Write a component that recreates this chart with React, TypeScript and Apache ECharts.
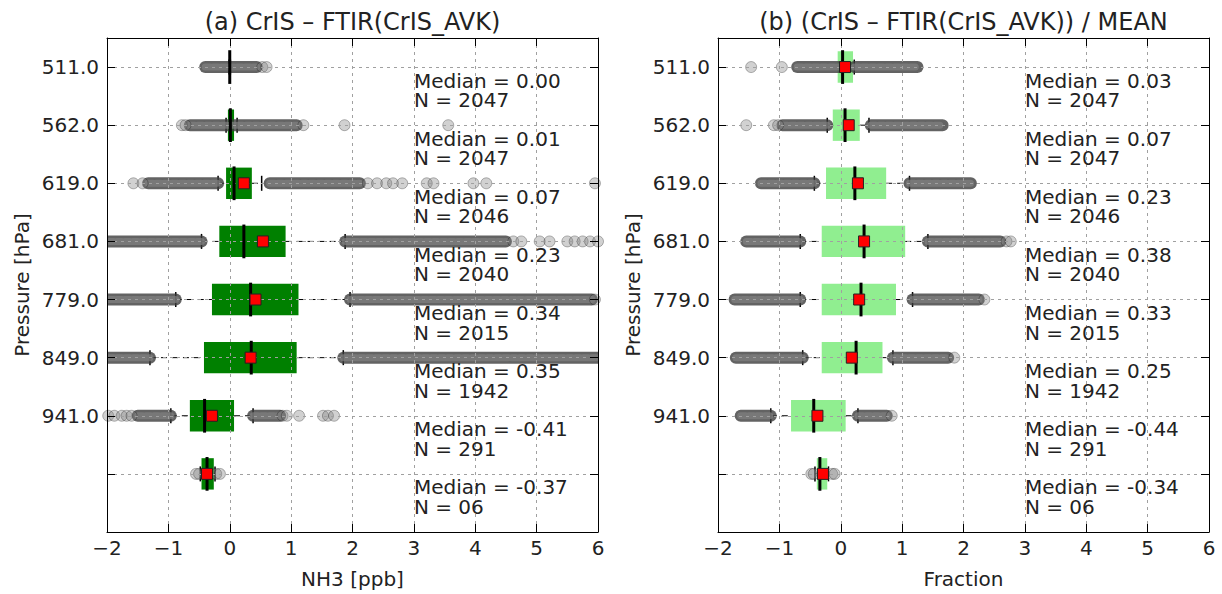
import React, { useEffect, useRef } from "react";
import * as echarts from "echarts";

// ---------- data ----------
const rowLabels = ["511.0", "562.0", "619.0", "681.0", "779.0", "849.0", "941.0", ""];
const rowPos = [8, 7, 6, 5, 4, 3, 2, 1];
const nObs = ["2047", "2047", "2046", "2040", "2015", "1942", "291", "06"];

// Panel (a) CrIS - FTIR(CrIS_AVK)  [ppb]
const aMedian = [0.0, 0.01, 0.07, 0.23, 0.34, 0.35, -0.41, -0.37];
const aQ1 = [-0.01, -0.03, -0.06, -0.17, -0.29, -0.42, -0.65, -0.46];
const aQ3 = [0.01, 0.07, 0.36, 0.91, 1.12, 1.09, 0.07, -0.26];
const aWhiskLo = [-0.01, -0.06, -0.19, -0.46, -0.88, -1.3, -0.96, -0.48];
const aWhiskHi = [0.01, 0.12, 0.52, 1.88, 1.96, 1.85, 0.38, -0.24];
const aMean: (number | null)[] = [null, null, 0.23, 0.54, 0.42, 0.34, -0.29, -0.37];
// dense outlier clusters: [row index, from, to]
const aClusters: [number, number, number][] = [
  [0, -0.4, 0.44],
  [1, -0.65, 1.09],
  [2, -1.33, -0.19],
  [2, 0.65, 2.12],
  [3, -2.1, -0.46],
  [3, 1.88, 4.5],
  [4, -2.1, -0.88],
  [4, 1.96, 5.9],
  [5, -2.1, -1.3],
  [5, 1.85, 6.1],
  [6, -1.5, -0.96],
  [6, 0.38, 0.82],
];
// isolated outliers: [row index, value]
const aOutliers: [number, number][] = [
  [0, 0.53], [0, 0.6],
  [1, -0.78], [1, -0.72], [1, 1.2], [1, 1.87], [1, 3.56],
  [2, -1.57], [2, -1.42], [2, 2.25], [2, 2.4], [2, 2.55], [2, 2.66], [2, 2.81], [2, 3.21], [2, 3.32], [2, 3.97], [2, 4.18], [2, 5.95],
  [3, 4.62], [3, 4.75], [3, 5.05], [3, 5.21], [3, 5.5], [3, 5.62], [3, 5.75], [3, 5.87], [3, 6.0],
  [4, 5.95],
  [6, -1.98], [6, -1.88], [6, -1.76], [6, -1.68], [6, -1.6], [6, 0.86], [6, 0.93], [6, 1.13], [6, 1.52], [6, 1.6], [6, 1.7],
  [7, -0.55], [7, -0.5], [7, -0.22], [7, -0.16],
];

// Panel (b) (CrIS - FTIR(CrIS_AVK)) / MEAN  [fraction]
const bMedian = [0.03, 0.07, 0.23, 0.38, 0.33, 0.25, -0.44, -0.34];
const bQ1 = [-0.05, -0.13, -0.24, -0.31, -0.31, -0.31, -0.81, -0.39];
const bQ3 = [0.2, 0.31, 0.74, 1.05, 0.9, 0.68, 0.08, -0.22];
const bWhiskLo = [-0.03, -0.22, -0.43, -0.66, -0.66, -0.62, -1.14, -0.42];
const bWhiskHi = [0.22, 0.46, 1.12, 1.42, 1.17, 0.85, 0.28, -0.2];
const bMean: (number | null)[] = [0.07, 0.13, 0.28, 0.38, 0.3, 0.18, -0.38, -0.29];
const bClusters: [number, number, number][] = [
  [0, -0.71, -0.03],
  [0, 0.22, 1.25],
  [1, -0.95, -0.22],
  [1, 0.49, 1.66],
  [2, -1.3, -0.43],
  [2, 1.12, 2.12],
  [3, -1.54, -0.66],
  [3, 1.42, 2.6],
  [4, -1.73, -0.66],
  [4, 1.17, 2.25],
  [5, -1.71, -0.62],
  [5, 0.85, 1.75],
  [6, -1.63, -1.14],
  [6, 0.28, 0.75],
];
const bOutliers: [number, number][] = [
  [0, -1.46], [0, -0.96],
  [1, -1.54], [1, -1.09], [1, -1.02],
  [3, 2.7], [3, 2.77],
  [4, 2.34],
  [5, 1.85],
  [6, 0.83],
  [7, -0.48], [7, -0.44], [7, -0.14], [7, -0.1],
];

const xTicks = [-2, -1, 0, 1, 2, 3, 4, 5, 6];
const titles = ["(a) CrIS \u2013 FTIR(CrIS_AVK)", "(b) (CrIS \u2013 FTIR(CrIS_AVK)) / MEAN"];
const xNames = ["NH3 [ppb]", "Fraction"];
const yName = "Pressure [hPa]";

// ---------- styles ----------
const FONT = "DejaVu Sans";
const TEXT = "#222";
const GRID_LEFT = [107, 718];
const GRID_TOP = 38;
const GRID_W = 491;
const GRID_H = 494;
const BOX_COLORS = ["#008000", "#90ee90"];

function fmtTick(v: number) {
  if (v < 0) return "\u2212" + Math.abs(v);
  return String(v);
}

function yLabel(v: number) {
  const i = rowPos.indexOf(v);
  return i >= 0 ? rowLabels[i] : "";
}

function panelSeries(
  g: number,
  med: number[],
  q1: number[],
  q3: number[],
  wlo: number[],
  whi: number[],
  mean: (number | null)[],
  clusters: [number, number, number][],
  outliers: [number, number][]
) {
  const axes = { xAxisIndex: 2 * g, yAxisIndex: 2 * g };
  const boxColor = BOX_COLORS[g];
  const boxData = rowPos.map((p, i) => [p, q1[i], q3[i], wlo[i], whi[i]]);
  const boxSeries = {
    type: "custom",
    ...axes,
    clip: true,
    z: 2,
    encode: { x: [1, 2, 3, 4], y: 0 },
    data: boxData,
    renderItem: (params: any, api: any) => {
      const pos = api.value(0);
      const c1 = api.coord([api.value(1), pos]);
      const c3 = api.coord([api.value(2), pos]);
      const cl = api.coord([api.value(3), pos]);
      const ch = api.coord([api.value(4), pos]);
      const halfBox = api.size([0, 0.27])[1];
      const cap = 7.5;
      const y = c1[1];
      const whiskStyle = { stroke: "#000", lineWidth: 1, lineDash: [6, 5] };
      const capStyle = { stroke: "#000", lineWidth: 1.5 };
      return {
        type: "group",
        children: [
          { type: "line", shape: { x1: cl[0], y1: y, x2: c1[0], y2: y }, style: whiskStyle },
          { type: "line", shape: { x1: c3[0], y1: y, x2: ch[0], y2: y }, style: whiskStyle },
          { type: "line", shape: { x1: cl[0], y1: y - cap, x2: cl[0], y2: y + cap }, style: capStyle },
          { type: "line", shape: { x1: ch[0], y1: y - cap, x2: ch[0], y2: y + cap }, style: capStyle },
          {
            type: "rect",
            shape: { x: c1[0], y: y - halfBox, width: Math.max(c3[0] - c1[0], 0.5), height: 2 * halfBox },
            style: { fill: boxColor },
          },
        ],
      };
    },
  };
  const medianSeries = {
    type: "custom",
    ...axes,
    clip: true,
    z: 11,
    encode: { x: 1, y: 0 },
    data: rowPos.map((p, i) => [p, med[i]]),
    renderItem: (params: any, api: any) => {
      const pos = api.value(0);
      const cm = api.coord([api.value(1), pos]);
      const halfMed = api.size([0, 0.29])[1];
      return {
        type: "line",
        shape: { x1: cm[0], y1: cm[1] - halfMed, x2: cm[0], y2: cm[1] + halfMed },
        style: { stroke: "#000", lineWidth: 3 },
      };
    },
  };
  const clusterSeries = {
    type: "custom",
    ...axes,
    clip: true,
    z: 3,
    encode: { x: [1, 2], y: 0 },
    data: clusters.map(([r, a, b]) => [rowPos[r], a, b]),
    renderItem: (params: any, api: any) => {
      const pos = api.value(0);
      const p1 = api.coord([api.value(1), pos]);
      const p2 = api.coord([api.value(2), pos]);
      return {
        type: "group",
        children: [
          {
            type: "line",
            shape: { x1: p1[0], y1: p1[1], x2: p2[0], y2: p2[1] },
            style: { stroke: "rgba(60,60,60,0.8)", lineWidth: 12, lineCap: "round" },
          },
          {
            type: "line",
            shape: { x1: p1[0], y1: p1[1], x2: p2[0], y2: p2[1] },
            style: { stroke: "rgba(130,130,130,0.7)", lineWidth: 7, lineCap: "round", lineDash: [5, 3] },
          },
        ],
      };
    },
  };
  const outlierSeries = {
    type: "scatter",
    ...axes,
    z: 4,
    symbol: "circle",
    symbolSize: 11,
    clip: true,
    itemStyle: { color: "rgba(128,128,128,0.45)", borderColor: "rgba(0,0,0,0.35)", borderWidth: 1 },
    data: outliers.map(([r, v]) => [v, rowPos[r]]),
  };
  const meanSeries = {
    type: "scatter",
    ...axes,
    z: 11.5,
    symbol: "rect",
    symbolSize: 11,
    itemStyle: { color: "#ff0000", borderColor: "#222", borderWidth: 1, opacity: 1 },
    data: rowPos.map((p, i) => (mean[i] == null ? null : [mean[i], p])).filter((d) => d !== null),
  };
  const textSeries = {
    type: "custom",
    ...axes,
    z: 12,
    encode: { x: 0, y: 1 },
    data: rowPos.map((p) => [3, p - 0.4]),
    renderItem: (params: any, api: any) => {
      const i = params.dataIndex;
      const pt = api.coord([api.value(0), api.value(1)]);
      return {
        type: "text",
        x: pt[0],
        y: pt[1],
        style: {
          text: "Median = " + med[i].toFixed(2) + "\nN = " + nObs[i],
          fontFamily: FONT,
          fontSize: 20,
          lineHeight: 19.5,
          fill: TEXT,
          textAlign: "left",
          textVerticalAlign: "middle",
        },
      };
    },
  };
  return [boxSeries, clusterSeries, outlierSeries, medianSeries, meanSeries, textSeries];
}

function buildOption() {
  const grid = [0, 1].map((g) => ({ left: GRID_LEFT[g], top: GRID_TOP, width: GRID_W, height: GRID_H }));
  const splitLine = { show: true, lineStyle: { color: "#a0a0a0", type: [3, 4], width: 1 } };
  const axisLine = { show: true, onZero: false, lineStyle: { color: "#000", width: 1 } };
  const axisTick = { show: true, inside: true, length: 8, lineStyle: { color: "#000", width: 1 } };
  const xAxis: any[] = [];
  const yAxis: any[] = [];
  [0, 1].forEach((g) => {
    xAxis.push({
      gridIndex: g,
      type: "value",
      position: "bottom",
      z: 10,
      min: xTicks[0],
      max: xTicks[xTicks.length - 1],
      interval: 1,
      name: xNames[g],
      nameLocation: "middle",
      nameGap: 37,
      nameTextStyle: { fontFamily: FONT, fontSize: 20, color: TEXT },
      axisLine,
      axisTick,
      axisLabel: { fontFamily: FONT, fontSize: 20, color: TEXT, margin: 6, formatter: fmtTick },
      splitLine,
    });
    xAxis.push({
      gridIndex: g,
      type: "value",
      position: "top",
      z: 10,
      min: xTicks[0],
      max: xTicks[xTicks.length - 1],
      interval: 1,
      axisLine,
      axisTick,
      axisLabel: { show: false },
      splitLine: { show: false },
    });
    yAxis.push({
      gridIndex: g,
      type: "value",
      position: "left",
      z: 10,
      min: 0,
      max: 8.5,
      interval: 1,
      name: yName,
      nameLocation: "middle",
      nameGap: 75,
      nameRotate: 90,
      nameTextStyle: { fontFamily: FONT, fontSize: 20, color: TEXT },
      axisLine,
      axisTick,
      axisLabel: { fontFamily: FONT, fontSize: 20, color: TEXT, margin: 8, formatter: yLabel },
      splitLine,
    });
    yAxis.push({
      gridIndex: g,
      type: "value",
      position: "right",
      z: 10,
      min: 0,
      max: 8.5,
      interval: 1,
      axisLine,
      axisTick,
      axisLabel: { show: false },
      splitLine: { show: false },
    });
  });
  const series = [
    ...panelSeries(0, aMedian, aQ1, aQ3, aWhiskLo, aWhiskHi, aMean, aClusters, aOutliers),
    ...panelSeries(1, bMedian, bQ1, bQ3, bWhiskLo, bWhiskHi, bMean, bClusters, bOutliers),
  ];
  const graphic = [0, 1].map((g) => ({
    type: "text",
    x: GRID_LEFT[g] + GRID_W / 2,
    y: 22,
    style: {
      text: titles[g],
      fontFamily: FONT,
      fontSize: 24,
      fill: TEXT,
      textAlign: "center",
      textVerticalAlign: "middle",
    },
  }));
  return {
    animation: false,
    backgroundColor: "#ffffff",
    grid,
    xAxis,
    yAxis,
    series,
    graphic,
  };
}

export default function App() {
  const ref = useRef<HTMLDivElement>(null);
  useEffect(() => {
    document.body.style.margin = "0";
    if (!ref.current) return;
    const chart = echarts.init(ref.current, undefined, { renderer: "svg" });
    chart.setOption(buildOption() as any);
    return () => chart.dispose();
  }, []);
  return <div ref={ref} style={{ width: 1222, height: 594, position: "absolute", left: 0, top: 0 }} />;
}
